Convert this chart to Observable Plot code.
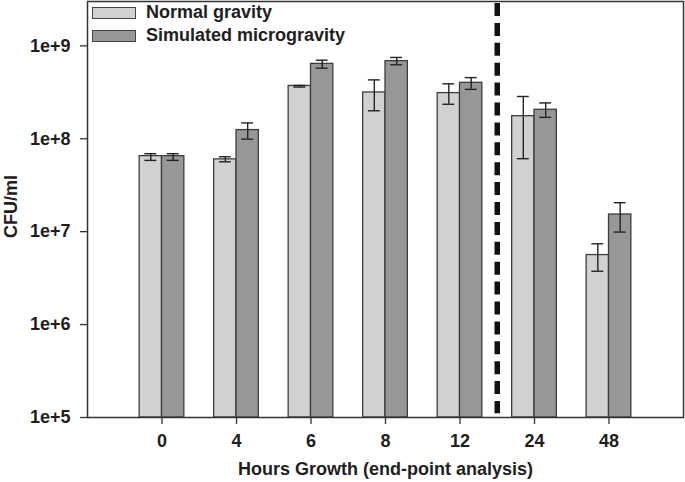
<!DOCTYPE html>
<html><head><meta charset="utf-8">
<script src="https://cdn.jsdelivr.net/npm/d3@7"></script>
<script src="https://cdn.jsdelivr.net/npm/@observablehq/plot@0.6"></script>
<style>
body{margin:0;background:#fff;}
#wrap{position:relative;width:685px;height:482px;}
.legend{position:absolute;left:92px;top:1px;font:bold 18px "Liberation Sans",Arial,sans-serif;color:#1e1e1e;}
.item{display:flex;align-items:center;height:23.3px;}
.sw{width:42px;height:10px;border:1.5px solid #444;margin-right:10px;box-sizing:content-box;}
</style></head><body><div id="wrap"></div>
<script>
// Categories (hours of growth)
const hours = ["0", "4", "6", "8", "12", "24", "48"];
const seriesNames = ["Normal gravity", "Simulated microgravity"];
const seriesColors = ["#d1d1d1", "#979797"];
// CFU/ml means and error bar bounds
const normal   = [6.5e7, 6.0e7, 3.7e8, 3.15e8, 3.1e8, 1.75e8, 5.6e6];
const normalLo = [5.85e7, 5.65e7, 3.6e8, 2.0e8, 2.35e8, 6.1e7, 3.75e6];
const normalHi = [6.9e7, 6.4e7, 3.75e8, 4.3e8, 3.9e8, 2.85e8, 7.4e6];
const micro    = [6.5e7, 1.24e8, 6.4e8, 6.85e8, 4.0e8, 2.05e8, 1.53e7];
const microLo  = [5.85e7, 9.9e7, 5.75e8, 6.25e8, 3.4e8, 1.7e8, 9.9e6];
const microHi  = [6.9e7, 1.48e8, 7.0e8, 7.5e8, 4.55e8, 2.43e8, 2.05e7];
const yTicks = [1e5, 1e6, 1e7, 1e8, 1e9];
const yLabel = "CFU/ml";
const xLabel = "Hours Growth (end-point analysis)";
const dividerAfter = "12"; // dashed separator after this category

const barW = 0.3, capW = 0.08;
const data = hours.flatMap((h, i) => [
  {i, series: seriesNames[0], v: normal[i], lo: normalLo[i], hi: normalHi[i], x1: i - barW, x2: i, xc: i - barW / 2},
  {i, series: seriesNames[1], v: micro[i], lo: microLo[i], hi: microHi[i], x1: i, x2: i + barW, xc: i + barW / 2}
]);
const divX = hours.indexOf(dividerAfter) + 0.5;

const chart = Plot.plot({
  width: 685, height: 482,
  marginLeft: 87, marginRight: 2, marginTop: 1, marginBottom: 65,
  style: {fontFamily: "'Liberation Sans', Arial, sans-serif", fontSize: "18px", fontWeight: "bold", color: "#1e1e1e", background: "#fff"},
  x: {type: "linear", domain: [-1, hours.length]},
  y: {type: "log", domain: [1e5, 3e9]},
  color: {domain: seriesNames, range: seriesColors},
  marks: [
    Plot.rectY(data, {x1: "x1", x2: "x2", y1: 1e5, y2: "v", fill: "series", stroke: "#3d3d3d", strokeWidth: 1.3}),
    Plot.ruleX(data, {x: "xc", y1: "lo", y2: "hi", stroke: "#222", strokeWidth: 1.4}),
    Plot.ruleY(data, {y: "lo", x1: d => d.xc - capW, x2: d => d.xc + capW, stroke: "#222", strokeWidth: 1.4}),
    Plot.ruleY(data, {y: "hi", x1: d => d.xc - capW, x2: d => d.xc + capW, stroke: "#222", strokeWidth: 1.4}),
    Plot.ruleX([divX], {x: d => d, y1: 3e9, y2: 1.1e5, stroke: "#111", strokeWidth: 5.5, strokeDasharray: "13,6.9", strokeDashoffset: -2}),
    Plot.frame({stroke: "#333", strokeWidth: 1.5}),
    Plot.axisY({ticks: yTicks, tickFormat: d => "1e+" + Math.round(Math.log10(d)), tickSize: 7, tickPadding: 10, fontSize: 18,
      label: null, stroke: "#333", strokeWidth: 1.3}),
    Plot.text([yLabel], {text: d => d, frameAnchor: "left", rotate: -90, dx: -76, dy: -3, fontSize: 18, fontWeight: "bold", fill: "#1e1e1e", textAnchor: "middle", lineAnchor: "middle"}),
    Plot.axisX({ticks: hours.map((h, i) => i), tickFormat: i => hours[i], tickSize: 7, tickPadding: 10, fontSize: 18,
      label: xLabel, labelAnchor: "center", labelOffset: 57, labelArrow: "none", stroke: "#333", strokeWidth: 1.3})
  ]
});

const wrap = document.getElementById("wrap");
wrap.appendChild(chart);
const leg = document.createElement("div");
leg.className = "legend";
seriesNames.forEach((name, k) => {
  const it = document.createElement("div");
  it.className = "item";
  const sw = document.createElement("span");
  sw.className = "sw";
  sw.style.background = seriesColors[k];
  const tx = document.createElement("span");
  tx.textContent = name;
  it.appendChild(sw); it.appendChild(tx);
  leg.appendChild(it);
});
wrap.appendChild(leg);
</script>
</body></html>
